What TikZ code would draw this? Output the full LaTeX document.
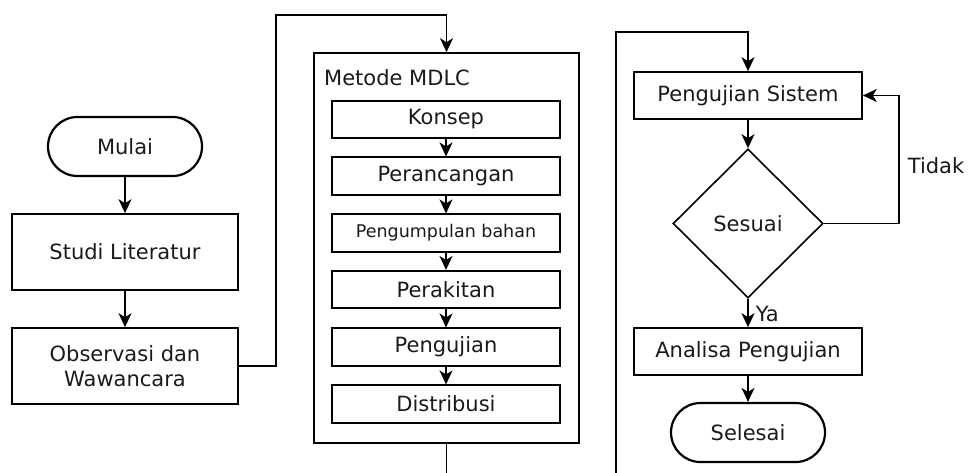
\documentclass[tikz,border=0pt]{standalone}
\usepackage{fontspec}
\setmainfont{DejaVu Sans}
\usetikzlibrary{shapes.geometric,shapes.misc,arrows.meta}
\definecolor{txt}{HTML}{1A1A1A}
\tikzset{
  x=1pt,y=-1pt,
  every node/.style={text=txt,font=\fontsize{21}{25}\selectfont},
  box/.style={draw,line width=1.6pt,rectangle,minimum width=226pt,minimum height=76pt,inner sep=0pt,align=center},
  ibox/.style={draw,line width=1.6pt,rectangle,minimum width=228pt,minimum height=37.5pt,inner sep=0pt},
  rbox/.style={draw,line width=1.6pt,rectangle,minimum width=228pt,minimum height=47pt,inner sep=0pt},
  term/.style={draw,line width=2.2pt,rounded rectangle,minimum width=154pt,minimum height=59pt,inner sep=0pt},
  dec/.style={draw,line width=1.6pt,diamond,minimum width=150pt,minimum height=149pt,inner sep=0pt},
  cont/.style={draw,line width=1.6pt,rectangle,minimum width=265pt,minimum height=390pt,inner sep=0pt},
  conn/.style={line width=1.6pt},
  arr/.style={line width=1.6pt,-{Stealth[length=14pt,width=13pt,inset=4pt]}},
}
\begin{document}
\begin{tikzpicture}
\useasboundingbox (0,0) rectangle (968,473);
% left column
\node[term] (mulai) at (125,146.5) {Mulai};
\node[box] (studi) at (125,252) {Studi Literatur};
\node[box] (obs) at (125,366) {Observasi dan\\Wawancara};
\draw[arr] (mulai) -- (studi);
\draw[arr] (studi) -- (obs);
% middle container
\node[cont] (mdlc) at (446.5,248) {};
\node[anchor=west,inner sep=0pt] (mdlclbl) at (324,78) {Metode MDLC};
\node[ibox] (k1) at (446,119.5) {Konsep};
\node[ibox] (k2) at (446,176) {Perancangan};
\node[ibox,font=\fontsize{17.5}{20}\selectfont] (k3) at (446,233) {Pengumpulan bahan};
\node[ibox] (k4) at (446,289.5) {Perakitan};
\node[ibox] (k5) at (446,347) {Pengujian};
\node[ibox] (k6) at (446,404) {Distribusi};
\draw[arr] (k1) -- (k2);
\draw[arr] (k2) -- (k3);
\draw[arr] (k3) -- (k4);
\draw[arr] (k4) -- (k5);
\draw[arr] (k5) -- (k6);
\draw[arr] (obs.east) -- (276,366) -- (276,15) -| (mdlc.north);
\coordinate (bot1) at (446.5,473);
\draw[conn] (mdlc.south) -- (bot1);
% right column
\node[rbox] (ps) at (748,95.5) {Pengujian Sistem};
\node[dec] (dia) at (748,223.5) {Sesuai};
\node[rbox] (ana) at (748,351.5) {Analisa Pengujian};
\node[term] (sel) at (748,432.5) {Selesai};
\coordinate (bot2) at (616,473);
\draw[arr] (bot2) -- (616,32) -| (ps.north);
\draw[arr] (ps) -- (dia);
\draw[arr] (dia) -- node[right,inner sep=0pt,xshift=7pt,yshift=-1pt] (ya) {Ya} (ana);
\draw[arr] (ana) -- (sel);
\draw[arr] (dia.east) -- (899,223.5) -- (899,95.5) -- (ps.east);
\node (tidak) at (936,166) {Tidak};
\end{tikzpicture}
\end{document}
